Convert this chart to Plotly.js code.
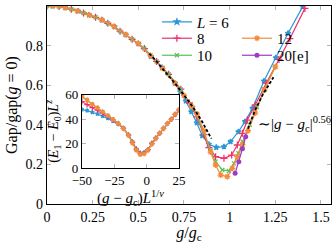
<!DOCTYPE html>
<html>
<head>
<meta charset="utf-8">
<script src="https://cdn.plot.ly/plotly-3.0.1.min.js"></script>
<style>
  html, body { margin: 0; padding: 0; background: #fff; }
  #chart { width: 332px; height: 243px; }
</style>
</head>
<body>
<div id="chart"></div>
<script>
// Main panel: normalised gap vs g/gc for several system sizes.
const g6 = [0.03, 0.1, 0.17, 0.23, 0.3, 0.37, 0.43, 0.5, 0.57, 0.63, 0.7, 0.73, 0.76, 0.79, 0.82, 0.85, 0.886, 0.927, 0.969, 1.005, 1.048, 1.084, 1.125, 1.188, 1.253, 1.32, 1.40];
const gap6 = [1.0, 0.992, 0.975, 0.955, 0.93, 0.895, 0.855, 0.81, 0.745, 0.69, 0.61, 0.567, 0.52, 0.466, 0.41, 0.345, 0.302, 0.286, 0.289, 0.315, 0.365, 0.416, 0.483, 0.621, 0.739, 0.862, 0.997];

const g8 = [0.0, 0.066, 0.133, 0.2, 0.266, 0.333, 0.4, 0.466, 0.533, 0.6, 0.666, 0.733, 0.78, 0.82, 0.86, 0.886, 0.923, 0.969, 1.011, 1.042, 1.07, 1.097, 1.14, 1.2, 1.27, 1.33, 1.412];
const gap8 = [1.0, 0.997, 0.984, 0.965, 0.943, 0.913, 0.873, 0.832, 0.785, 0.72, 0.655, 0.58, 0.51, 0.44, 0.35, 0.285, 0.239, 0.231, 0.247, 0.298, 0.357, 0.424, 0.5, 0.61, 0.73, 0.835, 0.988];

const g10 = [0.0, 0.066, 0.133, 0.2, 0.266, 0.333, 0.4, 0.466, 0.533, 0.6, 0.666, 0.733, 0.8, 0.86, 0.896, 0.923, 0.96, 0.996, 1.024, 1.048, 1.07, 1.11, 1.15, 1.19, 1.25];
const gap10 = [1.0, 0.997, 0.984, 0.965, 0.943, 0.913, 0.873, 0.832, 0.785, 0.72, 0.655, 0.578, 0.485, 0.36, 0.27, 0.214, 0.172, 0.167, 0.205, 0.256, 0.315, 0.40, 0.49, 0.58, 0.693];

const g12 = [0.033, 0.1, 0.166, 0.233, 0.3, 0.366, 0.433, 0.5, 0.566, 0.633, 0.7, 0.75, 0.79, 0.822, 0.859, 0.896, 0.923, 0.951, 0.987, 1.015, 1.042, 1.07, 1.1, 1.14, 1.19, 1.25];
const gap12 = [1.0, 0.992, 0.975, 0.954, 0.93, 0.897, 0.855, 0.81, 0.75, 0.685, 0.61, 0.548, 0.495, 0.455, 0.37, 0.262, 0.197, 0.146, 0.138, 0.18, 0.239, 0.30, 0.37, 0.46, 0.576, 0.693];

const g20 = [1.03, 1.05, 1.07, 1.088];
const gap20 = [0.155, 0.214, 0.279, 0.34];

// power-law guide ~|g-gc|^0.56
const gFitL = [0.56, 0.6, 0.65, 0.7, 0.75, 0.8, 0.85, 0.9];
const fitL = [0.76, 0.72, 0.664, 0.61, 0.55, 0.488, 0.415, 0.33];
const gFitR = [1.1, 1.14, 1.18, 1.22, 1.24];
const fitR = [0.38, 0.475, 0.55, 0.61, 0.64];

// Inset: data collapse (E1-E0)L^z vs (g-gc)L^(1/nu)
const sx = [-50, -46, -42, -38, -34, -30, -26, -22, -18, -14, -11, -8, -5, -2, 1, 4, 7, 10, 13, 16, 19, 22, 25];
const e6 = [48, 47.2, 45.8, 44.4, 42.6, 40.8, 38.6, 36, 32.5, 27, 21.5, 15.5, 12.3, 12.6, 15, 20.5, 24.5, 28.5, 32.5, 36.5, 40, 43.8, 47.5];
const e8 = [54.5, 52, 49.5, 47.5, 45, 42.5, 39.5, 36.5, 32.5, 27, 21, 15.5, 12, 12.3, 15, 20, 24.5, 28.5, 32.5, 36.5, 40, 44, 47.5];
const e10 = [58.5, 55.5, 52, 49, 46, 43, 40, 36.8, 33, 27, 21, 15, 11.5, 12, 15, 20, 24.5, 28.5, 32.5, 36.5, 40, 44, 47.5];
const e12 = [59, 56, 52.5, 49.5, 46.3, 43, 39.8, 36.5, 32.5, 26.5, 20.5, 14.5, 11, 11.5, 14.5, 19.5, 24, 28.5, 32.5, 36.5, 40, 44, 48];

const COLORS = { blue: '#2a98d8', red: '#f0306a', green: '#5cbf5c', orange: '#f58a3c', purple: '#9a3cc4' };
const FONT = 'Liberation Serif';

const series = [
  { name: '<i>L</i> = 6', x: g6, y: gap6, ix: sx, iy: e6, color: COLORS.blue, symbol: 'star', size: 4, legend: 'legend' },
  { name: '8', x: g8, y: gap8, ix: sx, iy: e8, color: COLORS.red, symbol: 'cross-thin-open', size: 5, legend: 'legend2' },
  { name: '10', x: g10, y: gap10, ix: sx, iy: e10, color: COLORS.green, symbol: 'x-thin-open', size: 4, legend: 'legend3' },
  { name: '12', x: g12, y: gap12, ix: sx, iy: e12, color: COLORS.orange, symbol: 'asterisk-open', size: 5, legend: 'legend4' },
];

const traces = [];
series.forEach(s => {
  traces.push({
    x: s.x, y: s.y, name: s.name, legend: s.legend, type: 'scatter', mode: 'lines+markers',
    line: { color: s.color, width: 1.2 },
    marker: { symbol: s.symbol, size: s.size, color: s.color, line: { color: s.color, width: 1.3 } },
  });
});
traces.push({
  x: g20, y: gap20, name: '20[e]', legend: 'legend5', type: 'scatter', mode: 'lines+markers',
  line: { color: COLORS.purple, width: 1.2 },
  marker: { symbol: 'circle', size: 5, color: COLORS.purple },
});
[[gFitL, fitL], [gFitR, fitR]].forEach(([x, y]) => {
  traces.push({ x, y, type: 'scatter', mode: 'lines', showlegend: false,
    line: { color: '#000', width: 1.8, dash: '3px,2px' } });
});
series.forEach(s => {
  traces.push({
    x: s.ix, y: s.iy, xaxis: 'x2', yaxis: 'y2', type: 'scatter', mode: 'lines+markers', showlegend: false,
    line: { color: s.color, width: 1.1 },
    marker: { symbol: s.symbol, size: s.size - 1, color: s.color, line: { color: s.color, width: 1.2 } },
  });
});

const AXIS = {
  showline: true, linecolor: '#000', linewidth: 1.2, mirror: 'allticks',
  ticks: 'inside', ticklen: 4, tickcolor: '#b4b4b4', tickwidth: 1,
  showgrid: false, zeroline: false,
  tickfont: { family: FONT, size: 14, color: '#000' },
};

// one single-row legend per entry so the two-column pgfplots layout can be placed
const LEG = { xanchor: 'left', yanchor: 'middle', bgcolor: 'rgba(0,0,0,0)',
  font: { family: FONT, size: 15 }, itemwidth: 30 };
const col1 = 0.387, col2 = 0.669;
const row = [0.919, 0.836, 0.75];

const layout = {
  width: 332, height: 243,
  margin: { l: 47, r: 1, t: 6, b: 39 },
  paper_bgcolor: '#fff', plot_bgcolor: '#fff',
  font: { family: FONT, color: '#000' },
  xaxis: { ...AXIS, range: [0, 1.555], tickvals: [0, 0.25, 0.5, 0.75, 1, 1.25, 1.5],
    title: { text: '<i>g</i>/<i>g</i><sub>c</sub>', font: { family: FONT, size: 16 }, standoff: 2 } },
  yaxis: { ...AXIS, range: [0, 1], dtick: 0.2,
    title: { text: 'Gap/gap(<i>g</i> = 0)', font: { family: FONT, size: 16 }, standoff: 4 } },
  xaxis2: { ...AXIS, anchor: 'y2', domain: [0.123, 0.465], range: [-50, 25], tickvals: [-50, -25, 0, 25],
    tickfont: { family: FONT, size: 13, color: '#000' },
    title: { text: '(<i>g</i> − <i>g</i><sub>c</sub>)<i>L</i><sup>1/<i>ν</i></sup>', font: { family: FONT, size: 15 }, standoff: 0 } },
  yaxis2: { ...AXIS, anchor: 'x2', domain: [0.182, 0.551], range: [0, 60], tickvals: [0, 20, 40, 60],
    tickfont: { family: FONT, size: 13, color: '#000' },
    title: { text: '(<i>E</i><sub>1</sub> − <i>E</i><sub>0</sub>)<i>L</i><sup><i>z</i></sup>', font: { family: FONT, size: 14 }, standoff: 3 } },
  legend: { ...LEG, x: col1, y: row[0] },
  legend2: { ...LEG, x: col1, y: row[1] },
  legend3: { ...LEG, x: col1, y: row[2] },
  legend4: { ...LEG, x: col2, y: row[1] },
  legend5: { ...LEG, x: col2, y: row[2] },
  annotations: [{
    x: 1.145, y: 0.405, xref: 'x', yref: 'y', xanchor: 'left', yanchor: 'middle', showarrow: false,
    text: '∼|<i>g</i> − <i>g</i><sub>c</sub>|<sup>0.56</sup>', font: { family: FONT, size: 15 },
  }],
};

Plotly.newPlot('chart', traces, layout, { displayModeBar: false, staticPlot: true });
</script>
</body>
</html>
